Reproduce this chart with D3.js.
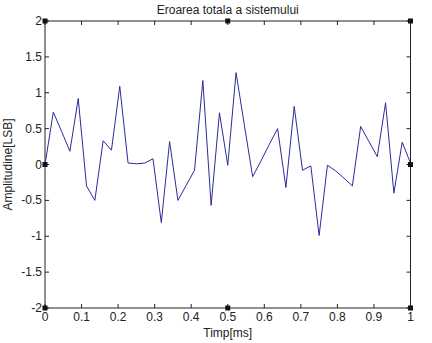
<!DOCTYPE html>
<html>
<head>
<meta charset="utf-8">
<script src="https://cdn.jsdelivr.net/npm/d3@7"></script>
<style>
  body { margin: 0; background: #fff; }
  svg { display: block; font-family: "Liberation Sans", Arial, sans-serif; }
</style>
</head>
<body>
<svg id="vis" width="432" height="343"></svg>
<script>
// error samples, t = 0..1 ms in 44 steps
const amplitude = [
  0, 0.73, 0.46, 0.185, 0.92, -0.30, -0.50, 0.33, 0.20, 1.09,
  0.02, 0.01, 0.02, 0.08, -0.81, 0.32, -0.50, -0.29, -0.08, 1.17,
  -0.57, 0.72, -0.01, 1.28, 0.55, -0.17, 0.05, 0.28, 0.50, -0.32,
  0.81, -0.08, -0.02, -0.99, -0.01, -0.09, -0.19, -0.30, 0.53, 0.32,
  0.11, 0.86, -0.40, 0.31, 0.02
];
const xTicks = [0, 0.1, 0.2, 0.3, 0.4, 0.5, 0.6, 0.7, 0.8, 0.9, 1];
const yTicks = [-2, -1.5, -1, -0.5, 0, 0.5, 1, 1.5, 2];
const handles = [[0, 2], [0.5, 2], [1, 2], [0, 0], [1, 0], [0, -2], [0.5, -2], [1, -2]];

const box = {left: 45, right: 410.5, top: 21, bottom: 308};
const svg = d3.select("#vis");

const x = d3.scaleLinear().domain([0, 1]).range([box.left, box.right]);
const y = d3.scaleLinear().domain([-2, 2]).range([box.bottom, box.top]);
const n = amplitude.length - 1;

// box
svg.append("rect")
  .attr("x", box.left).attr("y", box.top)
  .attr("width", box.right - box.left).attr("height", box.bottom - box.top)
  .attr("fill", "#fff").attr("stroke", "#222").attr("stroke-width", 1);

const tickLen = 4;
const g = svg.append("g").attr("stroke", "#222").attr("stroke-width", 1);
xTicks.forEach(t => {
  g.append("line").attr("x1", x(t)).attr("x2", x(t)).attr("y1", box.bottom).attr("y2", box.bottom - tickLen);
  g.append("line").attr("x1", x(t)).attr("x2", x(t)).attr("y1", box.top).attr("y2", box.top + tickLen);
});
yTicks.forEach(t => {
  g.append("line").attr("x1", box.left).attr("x2", box.left + tickLen).attr("y1", y(t)).attr("y2", y(t));
  g.append("line").attr("x1", box.right).attr("x2", box.right - tickLen).attr("y1", y(t)).attr("y2", y(t));
});

svg.append("g").selectAll("text").data(xTicks).join("text")
  .attr("x", d => x(d)).attr("y", box.bottom + 13)
  .attr("text-anchor", "middle").attr("font-size", 12).attr("fill", "#222")
  .text(d => d);

svg.append("g").selectAll("text").data(yTicks).join("text")
  .attr("x", box.left - 3).attr("y", d => y(d) + 4)
  .attr("text-anchor", "end").attr("font-size", 12).attr("fill", "#222")
  .text(d => d);

// signal
const line = d3.line().x((d, i) => x(i / n)).y(d => y(d));
svg.append("path")
  .datum(amplitude)
  .attr("d", line)
  .attr("fill", "none")
  .attr("stroke", "#2b2b9c")
  .attr("stroke-width", 1);

// selection handles
svg.append("g").selectAll("rect").data(handles).join("rect")
  .attr("x", d => x(d[0]) - 2.5).attr("y", d => y(d[1]) - 2.5)
  .attr("width", 5).attr("height", 5)
  .attr("fill", "#111");

svg.append("text")
  .attr("x", (box.left + box.right) / 2).attr("y", 14)
  .attr("text-anchor", "middle").attr("font-size", 12).attr("fill", "#222")
  .text("Eroarea totala a sistemului");

svg.append("text")
  .attr("x", (box.left + box.right) / 2).attr("y", 337)
  .attr("text-anchor", "middle").attr("font-size", 12).attr("fill", "#222")
  .text("Timp[ms]");

svg.append("text")
  .attr("transform", `translate(12,${(box.top + box.bottom) / 2}) rotate(-90)`)
  .attr("text-anchor", "middle").attr("font-size", 12).attr("fill", "#222")
  .text("Amplitudine[LSB]");
</script>
</body>
</html>
